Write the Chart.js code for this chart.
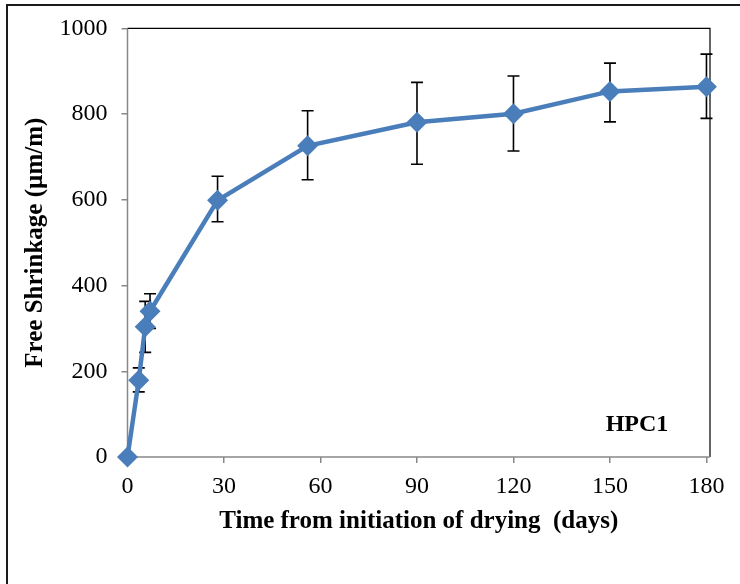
<!DOCTYPE html>
<html><head><meta charset="utf-8">
<script src="https://cdn.jsdelivr.net/npm/chart.js@4"></script>
<style>html,body{margin:0;padding:0;background:#fff}#w{width:740px;height:584px;position:relative}</style>
</head><body><div id="w"><canvas id="c" width="740" height="584"></canvas></div>
<script>
const days = [0, 3.5, 5.5, 7, 28, 56, 90, 120, 150, 180];
const shrinkage = [0, 179, 304, 340, 599, 726, 781, 801, 853, 864];
const errUpper = [0, 208, 363, 381, 655, 808, 874, 889, 919, 940];
const errLower = [0, 152, 244, 300, 549, 647, 683, 714, 782, 790];
const xTicks = [0, 30, 60, 90, 120, 150, 180];
const yTicks = [0, 200, 400, 600, 800, 1000];

const FONT = "'Liberation Serif', 'Times New Roman', serif";

const errorBars = {
  id: 'errorBars',
  beforeDatasetsDraw(chart) {
    const ctx = chart.ctx, xs = chart.scales.x, ys = chart.scales.y;
    ctx.save();
    ctx.strokeStyle = '#000'; ctx.lineWidth = 1.6;
    for (let i = 0; i < days.length; i++) {
      if (errUpper[i] === errLower[i]) continue;
      const x = xs.getPixelForValue(days[i]);
      const yt = ys.getPixelForValue(errUpper[i]);
      const yb = ys.getPixelForValue(errLower[i]);
      ctx.beginPath();
      ctx.moveTo(x, yt); ctx.lineTo(x, yb);
      ctx.moveTo(x - 6, yt); ctx.lineTo(x + 6, yt);
      ctx.moveTo(x - 6, yb); ctx.lineTo(x + 6, yb);
      ctx.stroke();
    }
    ctx.restore();
  }
};

const frame = {
  id: 'frame',
  beforeDraw(chart) {
    const ctx = chart.ctx;
    ctx.save();
    ctx.fillStyle = '#fff'; ctx.fillRect(0, 0, 740, 584);
    ctx.strokeStyle = '#1a1a1a'; ctx.lineWidth = 2;
    ctx.beginPath(); ctx.moveTo(7, 584); ctx.lineTo(7, 5); ctx.lineTo(740, 5); ctx.stroke();
    ctx.restore();
  },
  beforeDatasetsDraw(chart) {
    const ctx = chart.ctx, a = chart.chartArea;
    ctx.save();
    ctx.strokeStyle = '#000'; ctx.lineWidth = 1.2;
    ctx.beginPath();
    ctx.moveTo(a.left, a.top); ctx.lineTo(a.right, a.top); ctx.lineTo(a.right, a.bottom);
    ctx.stroke();
    ctx.strokeStyle = '#888'; ctx.lineWidth = 1.5;
    ctx.beginPath();
    ctx.moveTo(a.left, a.top); ctx.lineTo(a.left, a.bottom); ctx.lineTo(a.right, a.bottom);
    ctx.stroke();
    ctx.restore();
  },
  afterDraw(chart) {
    const ctx = chart.ctx;
    ctx.save();
    ctx.fillStyle = '#000';
    ctx.font = 'bold 24px ' + FONT;
    ctx.textAlign = 'center'; ctx.textBaseline = 'middle';
    ctx.fillText('HPC1', 637, 425);
    ctx.restore();
  }
};

new Chart(document.getElementById('c'), {
  type: 'scatter',
  data: {
    datasets: [{
      data: days.map((d, i) => ({x: d, y: shrinkage[i]})),
      showLine: true,
      clip: false,
      borderColor: '#4a7ebb',
      backgroundColor: '#4a7ebb',
      borderWidth: 4.5,
      pointStyle: 'rectRot',
      pointRadius: 10.5,
      pointHoverRadius: 10.5,
      pointBorderWidth: 0,
      tension: 0
    }]
  },
  options: {
    responsive: false,
    animation: false,
    plugins: { legend: {display: false}, tooltip: {enabled: false} },
    layout: { padding: {left: 0, top: 26, right: 30, bottom: 47} },
    scales: {
      x: {
        type: 'linear', min: 0, max: 181.1,
        afterBuildTicks: s => { s.ticks = xTicks.map(v => ({value: v})); },
        afterFit: s => { s.height = 80; },
        border: {display: false},
        grid: {drawOnChartArea: false, drawTicks: true, tickLength: 6, color: '#888', lineWidth: 1.5},
        ticks: {font: {family: FONT, size: 24}, color: '#000', padding: 9, maxRotation: 0, callback: v => String(v)},
        title: {display: true, text: 'Time from initiation of drying  (days)', font: {family: FONT, size: 25, weight: 'bold'}, color: '#000', padding: {top: 0, bottom: 0}}
      },
      y: {
        type: 'linear', min: 0, max: 1000,
        afterBuildTicks: s => { s.ticks = yTicks.map(v => ({value: v})); },
        afterFit: s => { s.width = 127.5; },
        border: {display: false},
        grid: {drawOnChartArea: false, drawTicks: true, tickLength: 6, color: '#888', lineWidth: 1.5},
        ticks: {font: {family: FONT, size: 24}, color: '#000', padding: 14, callback: v => String(v)},
        title: {display: true, text: 'Free Shrinkage (µm/m)', font: {family: FONT, size: 25, weight: 'bold'}, color: '#000', padding: {top: 21, bottom: 0}}
      }
    }
  },
  plugins: [frame, errorBars]
});
</script></body></html>
